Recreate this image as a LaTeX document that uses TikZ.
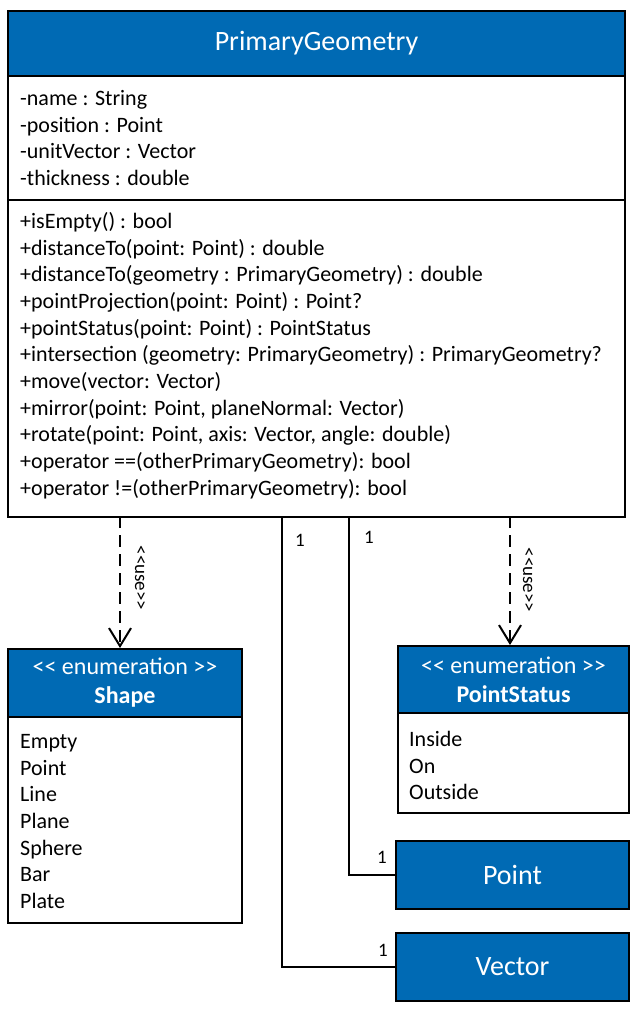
\documentclass[tikz,border=0pt]{standalone}
\usepackage{fontspec}
\setmainfont{Carlito}
\usetikzlibrary{arrows.meta}

\definecolor{umlblue}{RGB}{0,106,180}

\begin{document}
\begin{tikzpicture}[x=1pt, y=-1pt,
  box/.style={draw, line width=2pt, fill=white, inner sep=0pt},
  head/.style={draw, line width=2pt, fill=umlblue, text=white, inner sep=0pt},
  compartment/.style={anchor=north west, align=left, inner sep=0pt, font=\fontsize{22}{26.7}\selectfont},
  link/.style={line width=2pt},
  uses/.style={line width=2pt, dash pattern=on 12pt off 7pt, -{Straight Barb[length=18pt, width=22pt, line width=2pt]}},
  mult/.style={font=\fontsize{19}{22}\selectfont}]

  \useasboundingbox (0,0) rectangle (637,1010);

  % PrimaryGeometry
  \draw (7,10) node[box, anchor=north west, minimum width=617pt, minimum height=506pt] (pg) {};
  \draw (7,10) node[head, anchor=north west, minimum width=617pt, minimum height=65pt, font=\fontsize{28}{30}\selectfont] (pgname) {PrimaryGeometry};
  \draw[link] (7,200) -- (624,200);
  \draw (20,90) node[compartment] (pgattr) {-name : String\\-position : Point\\-unitVector : Vector\\-thickness : double};
  \draw (20,212) node[compartment] (pgops) {+isEmpty() : bool\\+distanceTo(point: Point) : double\\+distanceTo(geometry : PrimaryGeometry) : double\\+pointProjection(point: Point) : Point?\\+pointStatus(point: Point) : PointStatus\\+intersection (geometry: PrimaryGeometry) : PrimaryGeometry?\\+move(vector: Vector)\\+mirror(point: Point, planeNormal: Vector)\\+rotate(point: Point, axis: Vector, angle: double)\\+operator ==(otherPrimaryGeometry): bool\\+operator !=(otherPrimaryGeometry): bool};

  % Shape
  \draw (7,716) node[box, anchor=north west, minimum width=234pt, minimum height=206pt] (shape) {};
  \draw (7,648) node[head, anchor=north west, minimum width=234pt, minimum height=68pt, align=center, font=\fontsize{24}{29}\selectfont] (shapename) {<{}< enumeration >{}>\\\textbf{Shape}};
  \draw (20,734) node[compartment] (shapelist) {Empty\\Point\\Line\\Plane\\Sphere\\Bar\\Plate};

  % PointStatus
  \draw (397,712) node[box, anchor=north west, minimum width=231pt, minimum height=100pt] (status) {};
  \draw (397,645) node[head, anchor=north west, minimum width=231pt, minimum height=67pt, align=center, font=\fontsize{24}{29}\selectfont] (statusname) {<{}< enumeration >{}>\\\textbf{PointStatus}};
  \draw (409,731) node[compartment] (statuslist) {Inside\\On\\Outside};

  % Point, Vector
  \draw (395,840) node[head, anchor=north west, minimum width=233pt, minimum height=68pt, font=\fontsize{28}{30}\selectfont] (point) {Point};
  \draw (395,932) node[head, anchor=north west, minimum width=233pt, minimum height=68pt, font=\fontsize{28}{30}\selectfont] (vector) {Vector};

  % Dependencies
  \coordinate (useshape) at (120,516);
  \coordinate (usestatus) at (510,516);
  \draw[uses] (useshape) -- (shapename.north -| useshape);
  \draw[uses] (usestatus) -- (statusname.north -| usestatus);
  \draw (140,578) node[rotate=-90, font=\fontsize{19}{22}\selectfont] (useA) {<{}<use>{}>};
  \draw (528,580) node[rotate=-90, font=\fontsize{19}{22}\selectfont] (useB) {<{}<use>{}>};

  % Associations
  \coordinate (tovector) at (282,516);
  \coordinate (topoint) at (349,516);
  \draw[link] (tovector) |- (vector.west);
  \draw[link] (topoint) |- (point.west);
  \draw (300,540) node[mult] (m1) {1};
  \draw (369,537) node[mult] (m2) {1};
  \draw (382,857) node[mult] (m3) {1};
  \draw (383,950) node[mult] (m4) {1};

\end{tikzpicture}
\end{document}
